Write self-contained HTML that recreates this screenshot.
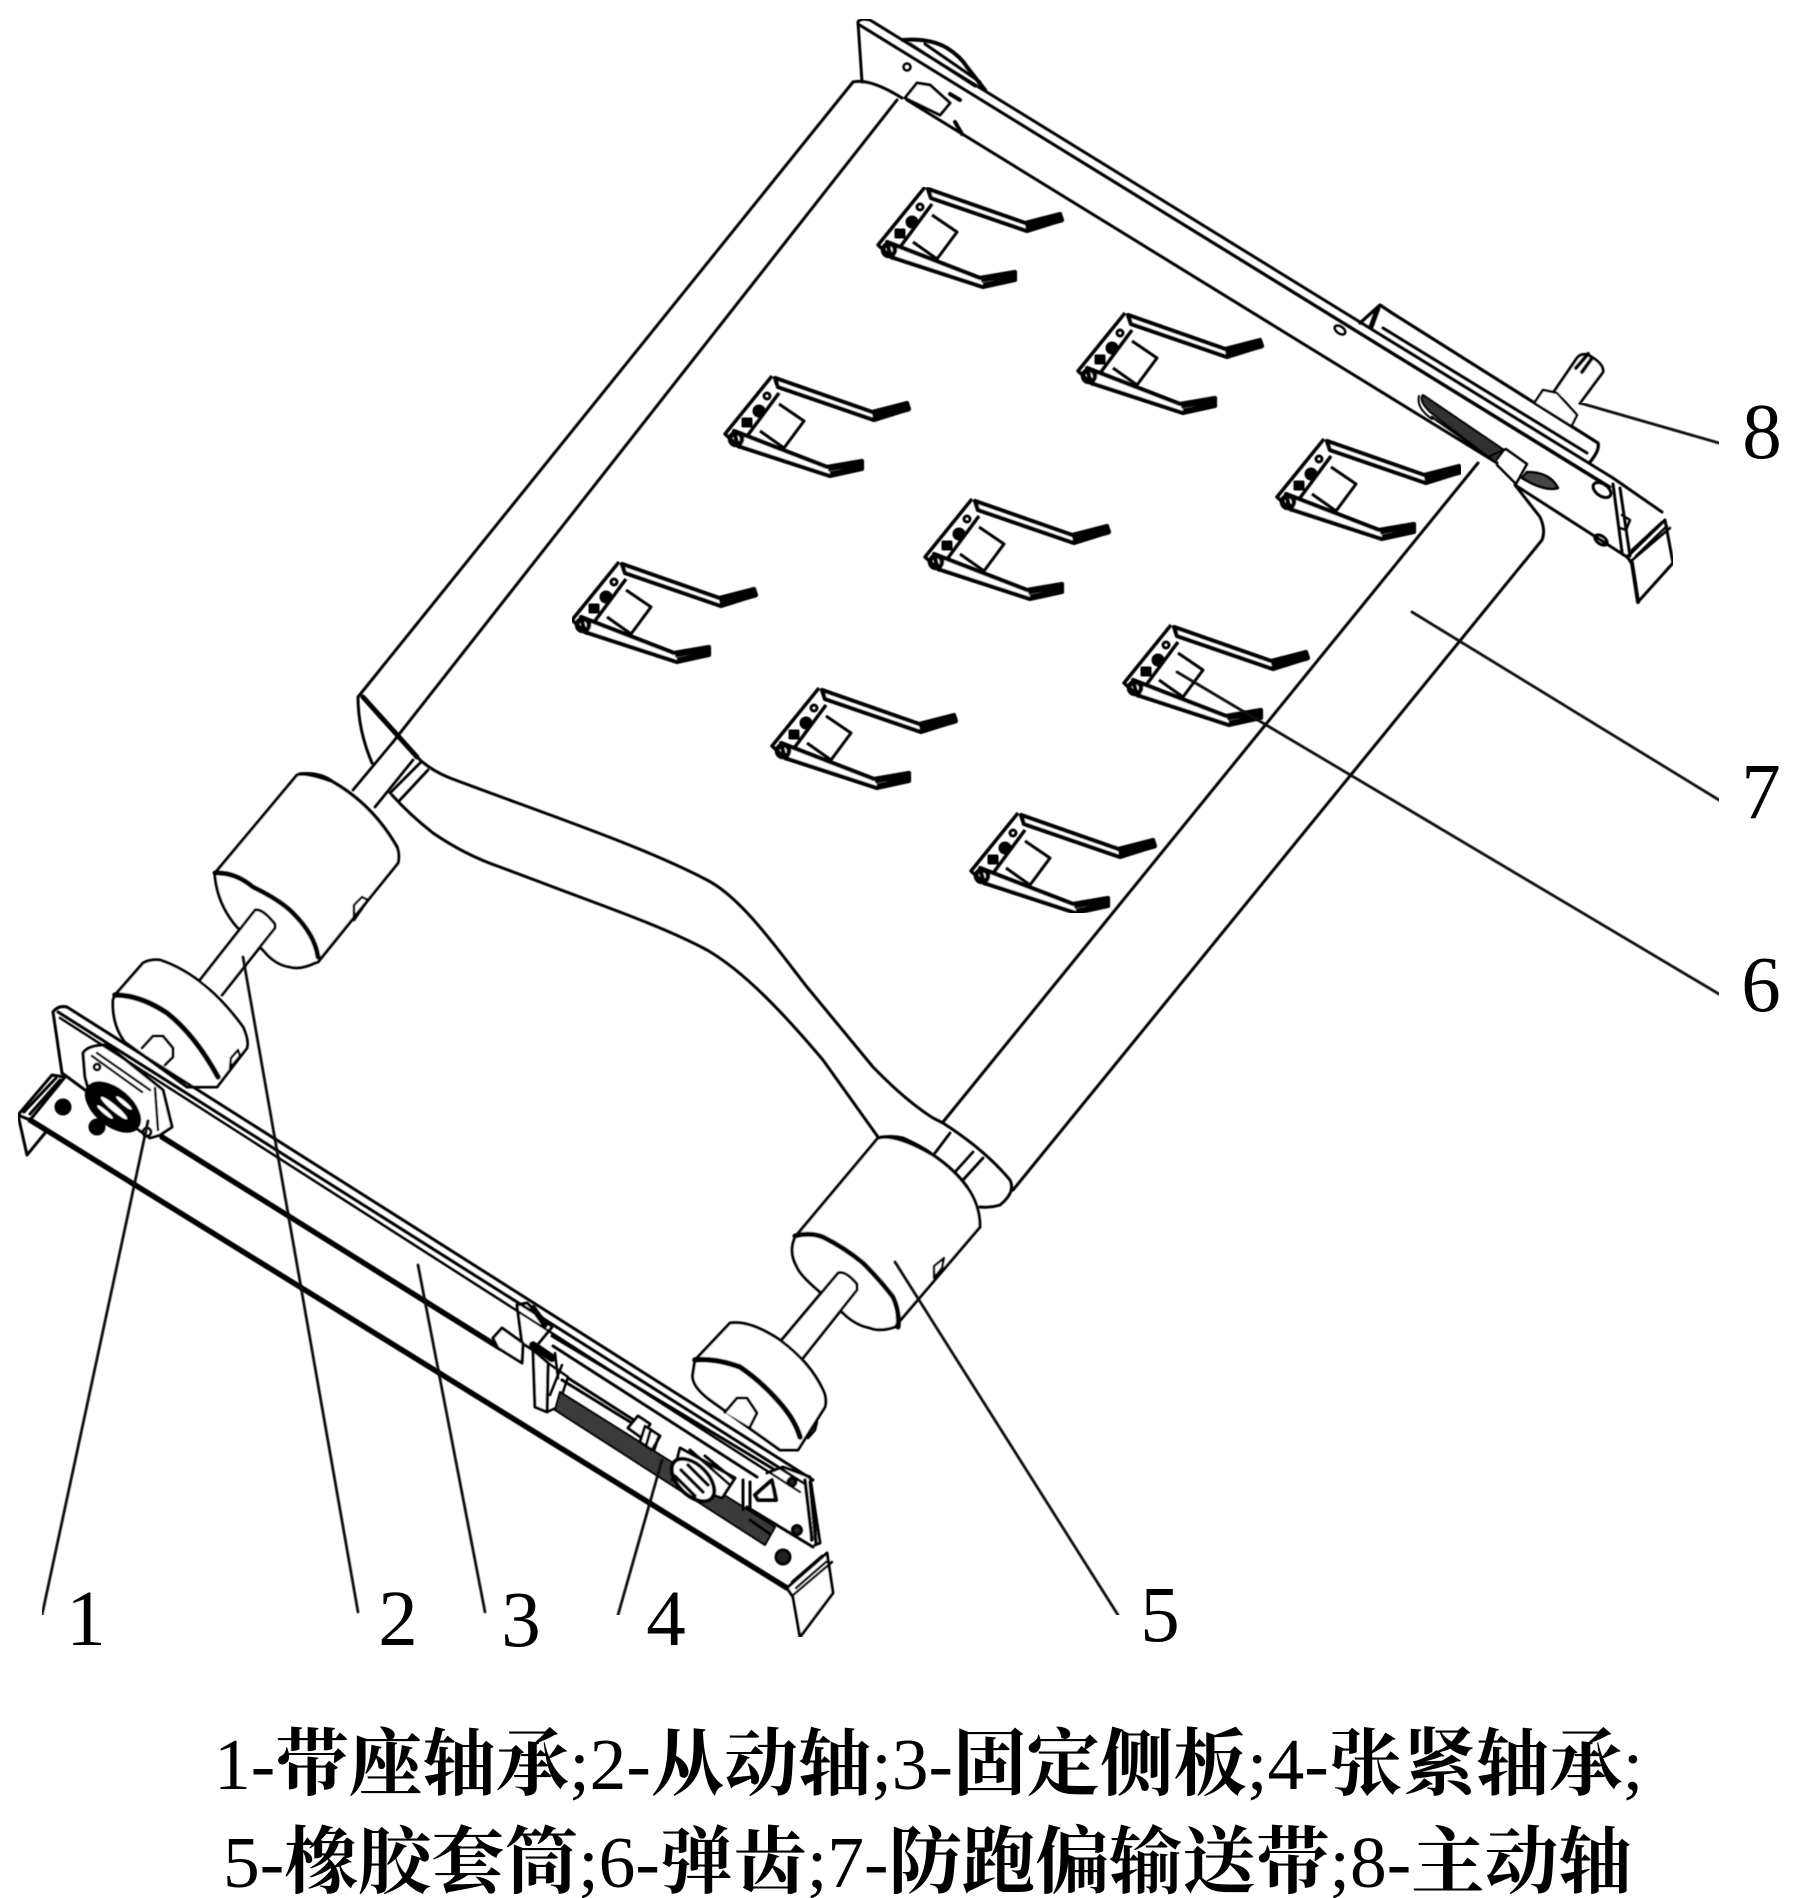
<!DOCTYPE html>
<html lang="zh"><head><meta charset="utf-8"><title>防跑偏输送带结构图</title>
<style>html,body{margin:0;padding:0;background:#fff}svg{display:block}
.n{font-family:"Liberation Serif",serif;font-size:79px;fill:#000;text-anchor:middle}
.c{font-family:"Liberation Serif","Noto Serif CJK SC",serif;font-size:73.5px;fill:#000}
.c tspan{font-weight:700}
</style></head><body>
<svg width="1794" height="1898" viewBox="0 0 1794 1898" xmlns="http://www.w3.org/2000/svg">
<defs>
<filter id="b" x="0" y="0" width="100%" height="100%"><feGaussianBlur stdDeviation="0.6"/></filter>
<g id="sp" fill="none" stroke="#000" stroke-width="3" stroke-linejoin="round">
<path d="M7 28L32 45L12 72L-12 55"/>
<path d="M0 0L-47 58L-33 71L7 17" stroke-width="3.5"/>
<path d="M3 2L100 36L135 27L137 33L102 44L6 11Z" fill="#fff" stroke-width="4.2"/>
<path d="M100 38L136 29M101 42L137 33" stroke-width="5"/>
<path d="M-38 55L55 91L90 85L90 93L58 100L-34 70Z" fill="#fff" stroke-width="4.2"/>
<path d="M56 93L90 87M58 98L90 92" stroke-width="5"/>
<circle cx="-5" cy="20" r="3"/><circle cx="-13" cy="35" r="5" fill="#000"/><rect x="-29" y="43" width="8" height="7" fill="#000"/>
<circle cx="-36" cy="63" r="6" stroke-width="4.5"/>
</g>
</defs>

<g filter="url(#b)" fill="none" stroke="#000" stroke-width="3" stroke-linejoin="round" stroke-linecap="round">
<!-- rear plate -->
<path d="M858 22Q860 18 870 20L1613 478"/>
<path d="M858 24L1610 487"/>
<path d="M866 29L1605 485" stroke-width="2.5"/>
<path d="M858 22L862 82"/>
<path d="M903 40Q930 38 947 48Q960 56 967 67L985 90" stroke-width="4"/>
<path d="M910 44L975 86M925 44L980 82" stroke-width="3"/>
<path d="M1360 323L1380 305L1392 313L1598 443Q1600 450 1590 462" stroke-width="3.2"/>
<path d="M1378 308L1371 327" stroke-width="5"/>
<path d="M1383 328L1587 453"/>
<path d="M907 100L1497 463"/>
<path d="M1515 485L1627 557"/>
<path d="M1613 484L1622 552M1620 488L1630 556"/>
<path d="M1613 478L1662 512"/>
<path d="M1627 557L1665 520L1673 563L1638 602L1632 563Z"/>
<path d="M1632 550L1662 522M1636 556L1667 526M1630 562L1670 528" stroke-width="2.5"/>
<path d="M1632 563L1638 602" stroke-width="4"/>
<ellipse cx="1602" cy="490" rx="10" ry="6" transform="rotate(35 1602 490)"/>
<ellipse cx="1601" cy="540" rx="7" ry="4" transform="rotate(35 1601 540)"/>
<path d="M1622 515L1630 520L1626 530L1620 528" stroke-width="2.5"/>
<ellipse cx="1340" cy="330" rx="6" ry="3.5" transform="rotate(35 1340 330)" stroke-width="2.5"/>
<circle cx="907" cy="67" r="3.5" stroke-width="2.5"/>
<path d="M917 83L930 85L950 103L940 115L905 98Z" fill="#fff"/>
<path d="M950 94L960 100M955 122L962 134" stroke-width="4"/>
<!-- driving shaft -->
<path d="M1553 393L1577 358Q1582 352 1590 356Q1604 364 1603 372L1580 403" fill="#fff"/>
<path d="M1576 368L1588 354M1582 372L1592 358" stroke-width="4"/>
<path d="M1535 402L1543 390L1557 393L1577 415L1572 425" fill="#fff" stroke-width="2.5"/>
<!-- slots -->
<path d="M1423 395L1504 450L1495 462L1430 412Q1418 400 1423 395Z" fill="#333" stroke-width="2"/>
<path d="M1419 396Q1416 408 1432 419" stroke-width="2"/>
<path d="M1432 417L1493 460" stroke-width="2.5"/>
<path d="M1527 472Q1550 472 1558 488Q1545 492 1522 478Z" fill="#444" stroke-width="2.5"/>
<path d="M1490 456L1506 449L1527 464L1516 484L1497 465" stroke-width="2.5"/>

<!-- belt -->
<path d="M853 82L358 697Q358 730 372 763"/>
<path d="M853 82Q870 78 902 98"/>
<path d="M897 100L393 742"/>
<path d="M1478 463L943 1122"/>
<path d="M1515 485L1540 517Q1546 530 1542 540L1013 1190"/>
<path d="M363 697L417 757Q430 770 450 778C540 812 640 845 707 880C742 898 778 950 807 987L873 1067Q905 1100 933 1118L943 1123Q985 1150 1010 1180Q1016 1192 1000 1205Q990 1208 980 1207"/>
<path d="M392 795Q410 815 433 833Q465 855 500 867L540 882C600 905 660 925 707 950C745 972 785 1015 823 1060L878 1137"/>
<path d="M363 697L417 757" stroke-width="5"/>
<path d="M353 790L393 742M375 807L413 760M390 793L420 763M400 800L428 770" stroke-width="2.8"/>
<path d="M950 1133L935 1153M973 1152L955 1172M983 1158L963 1180" stroke-width="2.8"/>

<!-- left large roller -->
<path d="M215 873L297 775Q305 772 333 782Q373 805 397 847Q400 855 398 863L318 962L315 963Q300 970 290 967Q275 965 263 950L237 927Q218 905 215 877Z" fill="#fff"/>
<path d="M215 873Q235 872 253 887Q280 900 293 913Q315 935 318 957" stroke-width="5"/>
<path d="M354 905L362 897L368 900L354 920Z" stroke-width="2.5"/>
<path d="M300 774Q320 772 333 782Q373 805 397 847" stroke-width="3.4"/>
<!-- left shaft -->
<path d="M200 980L255 910Q262 908 275 924L275 928L222 995" fill="#fff"/>
<!-- left small roller -->
<path d="M115 995L143 963Q150 959 160 960Q205 975 243 1027Q249 1040 247 1048L217 1087L187 1087L125 1042Q112 1025 113 1000Z" fill="#fff"/>
<path d="M115 995Q140 995 167 1013Q195 1035 218 1077" stroke-width="5.5"/>
<path d="M231 1058L238 1050L240 1056L230 1068Z" stroke-width="2.5"/>
<path d="M142 1048L153 1036L163 1036L173 1048L173 1057L165 1065" fill="#fff"/>

<!-- right large roller -->
<path d="M795 1237L878 1138Q890 1135 903 1138Q925 1148 933 1155Q955 1170 967 1187Q980 1205 980 1227L898 1323L895 1327Q880 1332 870 1328Q855 1325 843 1313L820 1292Q800 1275 797 1267Q790 1255 793 1243Z" fill="#fff"/>
<path d="M795 1236Q810 1232 823 1237Q845 1248 863 1263Q880 1280 893 1297Q900 1312 898 1327" stroke-width="5"/>
<path d="M934 1266L944 1258L942 1268L934 1278Z" stroke-width="2.5"/>
<path d="M878 1138Q895 1133 933 1155Q955 1170 967 1187" stroke-width="3.4"/>
<!-- right shaft -->
<path d="M780 1342L838 1273Q845 1270 857 1284L857 1290L803 1358" fill="#fff"/>
<!-- right small roller -->
<path d="M695 1360L730 1323Q750 1320 780 1340Q810 1362 823 1390Q827 1398 825 1407L798 1450L780 1450L710 1400Q690 1385 693 1373Z" fill="#fff"/>
<path d="M695 1360Q715 1358 740 1367Q762 1382 780 1403Q795 1420 800 1437" stroke-width="5.5"/>
<path d="M810 1432L817 1422L815 1430L808 1438Z" stroke-width="2.5"/>
<path d="M725 1412L737 1398L747 1398L757 1413L750 1427" fill="#fff"/>

<!-- front plate -->
<path d="M53 1012L62 1073"/>
<path d="M62 1073L85 1090"/>
<path d="M162 1137L500 1348" stroke-width="5.5"/>
<path d="M30 1120L787 1588" stroke-width="5.5"/>
<path d="M18 1115L52 1075L65 1077L30 1120Z"/>
<path d="M24 1112L56 1078M30 1114L60 1080" stroke-width="3"/>
<path d="M18 1115L27 1155L45 1133" />
<path d="M787 1588L827 1553L833 1593L800 1637L793 1597Z" fill="#fff"/>
<path d="M792 1582L822 1556M796 1588L826 1562M792 1596L832 1562" stroke-width="2.5"/>
<circle cx="63" cy="1107" r="7" fill="#000"/><circle cx="97" cy="1127" r="7" fill="#000"/>
<circle cx="783" cy="1557" r="7" fill="#222"/>
<!-- flange bearing -->
<path d="M83 1053Q88 1045 107 1045L163 1090L172 1127L160 1135L150 1138L90 1095L85 1077Z" fill="#fff"/>
<path d="M97 1053L150 1090M92 1056L142 1092" stroke-width="2.5"/>
<path d="M155 1088L158 1130" stroke-width="2.5"/>
<ellipse cx="113" cy="1107" rx="32" ry="18" transform="rotate(40 113 1107)" fill="#000" stroke-width="2"/>
<ellipse cx="114" cy="1108" rx="17" ry="3" transform="rotate(40 114 1108)" fill="#fff" stroke="none"/>
<ellipse cx="105" cy="1112" rx="10" ry="2" transform="rotate(40 105 1112)" fill="#fff" stroke="none"/>
<ellipse cx="124" cy="1103" rx="10" ry="2" transform="rotate(40 124 1103)" fill="#fff" stroke="none"/>
<circle cx="97" cy="1067" r="3"/><circle cx="147" cy="1132" r="4"/>

<!-- tensioner -->
<path d="M517 1305L527 1303L552 1327L533 1350L522 1343Z" fill="#fff"/>
<path d="M533 1308L545 1325" stroke-width="6"/>
<path d="M493 1338L502 1328L523 1343L522 1363L498 1348Z" fill="#fff"/>
<path d="M533 1350L535 1407L547 1412L548 1363Z" fill="#fff"/>
<path d="M533 1345L552 1358" stroke-width="8"/>
<path d="M548 1363L568 1377L558 1407L547 1412" stroke-width="2.5"/>
<path d="M555 1353L558 1378M562 1365L550 1395" stroke-width="2.5"/>
<path d="M562 1380L640 1428" />
<path d="M568 1378L640 1424"/>
<path d="M560 1392L775 1527L765 1545L555 1410Z" fill="#3a3a3a" stroke-width="2"/>
<path d="M628 1428L638 1416L650 1424L642 1438Z" fill="#fff"/>
<path d="M645 1426L660 1436L652 1450L640 1442Z" fill="#fff" stroke-width="3"/>
<path d="M650 1432L646 1446M658 1438L654 1450" stroke-width="3"/>
<path d="M680 1448L735 1478L722 1498L672 1480Z" fill="#fff"/>
<path d="M690 1450L730 1485M705 1456L732 1478" stroke-width="3"/>
<ellipse cx="693" cy="1480" rx="26" ry="15" transform="rotate(45 693 1480)" fill="#fff" stroke-width="4"/>
<path d="M681 1470L703 1492M675 1476L695 1496M688 1465L708 1485" stroke-width="3.5"/>
<path d="M743 1480L743 1510M750 1482L750 1510" />
<path d="M767 1473L783 1467L810 1477L820 1543L815 1545" fill="#fff"/>
<path d="M810 1482L816 1543M805 1480L812 1540" stroke-width="3.5"/>
<path d="M755 1495L772 1480L776 1500L758 1500Z" fill="#fff" stroke-width="4"/>
<circle cx="792" cy="1482" r="4" fill="#222"/>
<path d="M747 1507L813 1547M750 1520L770 1534" stroke-width="3"/>
<circle cx="797" cy="1530" r="4.5" fill="#222"/>
<!-- front rails drawn over the tensioner -->
<path d="M53 1012Q58 1005 67 1007L813 1480"/>
<path d="M58 1012L805 1484"/>
<path d="M60 1018L800 1492" stroke-width="2.5"/>
<path d="M552 1336L775 1470M553 1346L757 1477" />
</g>

<!-- spring teeth -->
<g filter="url(#b)">
<use href="#sp" x="925" y="187"/><use href="#sp" x="1125" y="313"/>
<use href="#sp" x="772" y="376"/><use href="#sp" x="1324" y="439"/>
<use href="#sp" x="972" y="499"/><use href="#sp" x="619" y="562"/>
<use href="#sp" x="1171" y="625"/><use href="#sp" x="819" y="688"/>
<use href="#sp" x="1018" y="813"/>
</g>

<!-- leaders -->
<g stroke="#111" stroke-width="2.8" stroke-linecap="round" filter="url(#b)">
<path d="M148 1121L42 1615"/><path d="M243 957L358 1612"/><path d="M418 1265L485 1612"/>
<path d="M662 1460L618 1615"/><path d="M895 1262L1118 1615"/><path d="M1177 672L1719 994"/>
<path d="M1412 612L1719 800"/><path d="M1580 403L1719 443"/>
</g>

<text class="n" x="86" y="1645">1</text><text class="n" x="398" y="1645">2</text>
<text class="n" x="521" y="1646">3</text><text class="n" x="666" y="1645">4</text>
<text class="n" x="1160" y="1641">5</text><text class="n" x="1761" y="1011">6</text>
<text class="n" x="1761" y="818">7</text><text class="n" x="1762" y="458">8</text>

<text class="c" x="214" y="1789">1-<tspan>带座轴承</tspan>;2-<tspan>从动轴</tspan>;3-<tspan>固定侧板</tspan>;4-<tspan>张紧轴承</tspan>;</text>
<text class="c" x="223" y="1887">5-<tspan>橡胶套筒</tspan>;6-<tspan>弹齿</tspan>;7-<tspan>防跑偏输送带</tspan>;8-<tspan>主动轴</tspan></text>
</svg>
</body></html>
